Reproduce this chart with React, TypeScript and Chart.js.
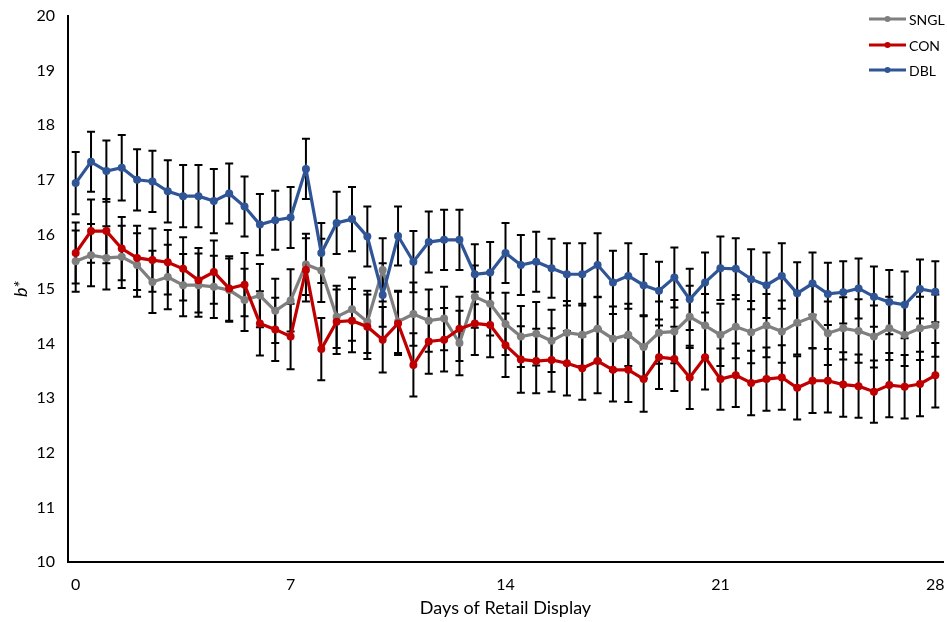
import React, { useEffect, useRef } from 'react';
import { Chart, registerables } from 'chart.js';

Chart.register(...registerables);

const days = [0, 0.5, 1, 1.5, 2, 2.5, 3, 3.5, 4, 4.5, 5, 5.5, 6, 6.5, 7, 7.5, 8, 8.5, 9, 9.5, 10, 10.5, 11, 11.5, 12, 12.5, 13, 13.5, 14, 14.5, 15, 15.5, 16, 16.5, 17, 17.5, 18, 18.5, 19, 19.5, 20, 20.5, 21, 21.5, 22, 22.5, 23, 23.5, 24, 24.5, 25, 25.5, 26, 26.5, 27, 27.5, 28];
const xTickValues = [0, 7, 14, 21, 28];
const yTickValues = [10, 11, 12, 13, 14, 15, 16, 17, 18, 19, 20];

const seriesNames = ['SNGL', 'CON', 'DBL'];

const sngl = [15.51, 15.62, 15.57, 15.59, 15.44, 15.13, 15.22, 15.07, 15.07, 15.04, 14.98, 14.80, 14.88, 14.60, 14.79, 15.45, 15.34, 14.49, 14.63, 14.40, 15.35, 14.40, 14.54, 14.42, 14.46, 14.01, 14.86, 14.73, 14.36, 14.13, 14.18, 14.05, 14.20, 14.16, 14.27, 14.09, 14.16, 13.94, 14.20, 14.22, 14.49, 14.33, 14.16, 14.31, 14.21, 14.33, 14.22, 14.38, 14.49, 14.19, 14.28, 14.23, 14.13, 14.28, 14.16, 14.28, 14.33];
const con = [15.66, 16.06, 16.06, 15.74, 15.57, 15.53, 15.49, 15.37, 15.16, 15.31, 15.01, 15.08, 14.37, 14.26, 14.13, 15.35, 13.90, 14.40, 14.42, 14.31, 14.07, 14.37, 13.61, 14.04, 14.07, 14.27, 14.37, 14.34, 13.97, 13.71, 13.68, 13.70, 13.64, 13.55, 13.68, 13.52, 13.52, 13.35, 13.75, 13.72, 13.38, 13.75, 13.35, 13.42, 13.28, 13.35, 13.38, 13.19, 13.32, 13.32, 13.25, 13.22, 13.12, 13.24, 13.21, 13.26, 13.42];
const dbl = [16.94, 17.33, 17.16, 17.22, 17.00, 16.97, 16.79, 16.70, 16.70, 16.61, 16.75, 16.51, 16.18, 16.26, 16.31, 17.20, 15.66, 16.21, 16.28, 15.96, 14.89, 15.97, 15.50, 15.86, 15.90, 15.90, 15.27, 15.30, 15.66, 15.44, 15.50, 15.38, 15.27, 15.27, 15.44, 15.12, 15.24, 15.07, 14.97, 15.21, 14.81, 15.12, 15.38, 15.37, 15.18, 15.07, 15.24, 14.92, 15.10, 14.91, 14.94, 15.01, 14.86, 14.76, 14.71, 15.00, 14.95];

const snglErr = [0.56, 0.57, 0.58, 0.57, 0.58, 0.57, 0.59, 0.57, 0.58, 0.57, 0.58, 0.57, 0.58, 0.59, 0.57, 0.56, 0.58, 0.57, 0.58, 0.57, 0.58, 0.57, 0.58, 0.57, 0.58, 0.59, 0.57, 0.58, 0.57, 0.56, 0.58, 0.57, 0.58, 0.57, 0.58, 0.59, 0.57, 0.58, 0.57, 0.58, 0.57, 0.58, 0.57, 0.58, 0.57, 0.58, 0.57, 0.58, 0.57, 0.58, 0.57, 0.58, 0.57, 0.58, 0.57, 0.58, 0.57];
const conErr = [0.56, 0.58, 0.59, 0.58, 0.59, 0.58, 0.59, 0.58, 0.59, 0.58, 0.59, 0.58, 0.59, 0.58, 0.60, 0.58, 0.57, 0.59, 0.58, 0.59, 0.60, 0.58, 0.58, 0.59, 0.58, 0.59, 0.58, 0.59, 0.58, 0.61, 0.59, 0.58, 0.59, 0.58, 0.59, 0.58, 0.59, 0.60, 0.58, 0.59, 0.58, 0.59, 0.56, 0.58, 0.59, 0.58, 0.59, 0.58, 0.59, 0.58, 0.59, 0.58, 0.57, 0.59, 0.58, 0.59, 0.59];
const dblErr = [0.57, 0.55, 0.56, 0.60, 0.56, 0.56, 0.57, 0.57, 0.57, 0.59, 0.55, 0.55, 0.56, 0.54, 0.56, 0.55, 0.55, 0.57, 0.59, 0.55, 0.58, 0.54, 0.56, 0.56, 0.55, 0.55, 0.55, 0.56, 0.55, 0.55, 0.55, 0.54, 0.57, 0.57, 0.58, 0.58, 0.60, 0.57, 0.53, 0.55, 0.56, 0.55, 0.58, 0.56, 0.55, 0.60, 0.60, 0.57, 0.57, 0.57, 0.57, 0.55, 0.55, 0.59, 0.61, 0.54, 0.56];

const colors = ['#7F7F7F', '#C00000', '#2F5597'];
const FONT = 'Lato, "Open Sans", sans-serif';

const errorBarPlugin = {
  id: 'errorBars',
  beforeDatasetsDraw(chart: any) {
    const { ctx } = chart;
    const xs = chart.scales.x;
    const ys = chart.scales.y;
    ctx.save();
    ctx.strokeStyle = '#000';
    ctx.lineWidth = 2;
    chart.data.datasets.forEach((ds: any) => {
      const errs: number[] = ds.errors || [];
      ds.data.forEach((p: any, i: number) => {
        const e = errs[i];
        if (e == null) return;
        const x = xs.getPixelForValue(p.x);
        const yt = ys.getPixelForValue(p.y + e);
        const yb = ys.getPixelForValue(p.y - e);
        ctx.beginPath();
        ctx.moveTo(x, yt);
        ctx.lineTo(x, yb);
        ctx.moveTo(x - 4, yt);
        ctx.lineTo(x + 4, yt);
        ctx.moveTo(x - 4, yb);
        ctx.lineTo(x + 4, yb);
        ctx.stroke();
      });
    });
    ctx.restore();
  },
};

const legendPlugin = {
  id: 'customLegend',
  afterDraw(chart: any) {
    const { ctx } = chart;
    const x0 = 869;
    const x1 = 906;
    const tx = 909;
    const ys = [19, 45, 70];
    ctx.save();
    chart.data.datasets.forEach((ds: any, i: number) => {
      const y = ys[i];
      ctx.strokeStyle = ds.borderColor;
      ctx.lineWidth = 3;
      ctx.beginPath();
      ctx.moveTo(x0, y);
      ctx.lineTo(x1, y);
      ctx.stroke();
      ctx.fillStyle = ds.borderColor;
      ctx.beginPath();
      ctx.arc((x0 + x1) / 2, y, 3, 0, Math.PI * 2);
      ctx.fill();
      ctx.fillStyle = '#000';
      ctx.font = `14px ${FONT}`;
      ctx.textBaseline = 'middle';
      ctx.textAlign = 'left';
      ctx.fillText(ds.label, tx, y + 1);
    });
    ctx.restore();
  },
};

export default function App() {
  const canvasRef = useRef<HTMLCanvasElement | null>(null);

  useEffect(() => {
    document.body.style.margin = '0';
    const canvas = canvasRef.current;
    if (!canvas) return;
    const seriesValues = [sngl, con, dbl];
    const seriesErrs = [snglErr, conErr, dblErr];
    const datasets = seriesNames.map((name, si) => ({
      label: name,
      data: days.map((d, i) => ({ x: d, y: seriesValues[si][i] })),
      errors: seriesErrs[si],
      borderColor: colors[si],
      backgroundColor: colors[si],
      pointBackgroundColor: colors[si],
      pointBorderColor: colors[si],
      borderWidth: 3.2,
      pointRadius: 4,
      pointBorderWidth: 0,
      tension: 0,
      order: 3 - si,
    }));

    const chart = new Chart(canvas, {
      type: 'line',
      data: { datasets } as any,
      plugins: [errorBarPlugin, legendPlugin],
      options: {
        animation: false,
        responsive: false,
        layout: { padding: { left: 0, right: 3.5, top: 16, bottom: 0 } },
        plugins: {
          legend: { display: false },
          tooltip: { enabled: false },
        },
        scales: {
          x: {
            type: 'linear',
            min: -0.25,
            max: 28.25,
            grid: { display: false, drawTicks: false },
            border: { display: true, color: '#000', width: 2 },
            afterBuildTicks: (s: any) => {
              s.ticks = xTickValues.map((v) => ({ value: v }));
            },
            afterFit: (s: any) => {
              s.height = 60;
              s.paddingLeft = 0;
              s.paddingRight = 0;
            },
            ticks: {
              autoSkip: false,
              maxRotation: 0,
              padding: 13,
              color: '#000',
              font: { family: FONT, size: 16 },
              callback: (v: any) => String(v),
            },
            title: {
              display: true,
              text: 'Days of Retail Display',
              color: '#000',
              font: { family: FONT, size: 18 },
              padding: { top: 0, bottom: 3 },
            },
          },
          y: {
            type: 'linear',
            min: 10,
            max: 20,
            grid: { display: false, drawTicks: false },
            border: { display: true, color: '#000', width: 2 },
            afterBuildTicks: (s: any) => {
              s.ticks = yTickValues.map((v) => ({ value: v }));
            },
            afterFit: (s: any) => {
              s.width = 68;
              s.paddingTop = 0;
              s.paddingBottom = 0;
            },
            ticks: {
              padding: 13,
              color: '#000',
              font: { family: FONT, size: 16 },
              callback: (v: any) => String(v),
            },
            title: {
              display: true,
              text: 'b*',
              color: '#000',
              font: { family: FONT, size: 18, style: 'italic' },
              padding: { top: 10, bottom: 0 },
            },
          },
        },
      } as any,
    });
    return () => chart.destroy();
  }, []);

  return (
    <div style={{ width: 947, height: 622 }}>
      <canvas ref={canvasRef} width={947} height={622} style={{ display: 'block' }} />
    </div>
  );
}
